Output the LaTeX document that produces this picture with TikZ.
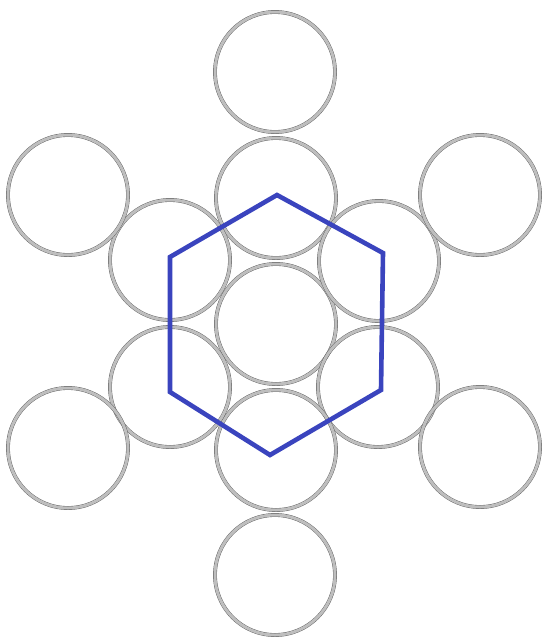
\documentclass[tikz,border=0pt]{standalone}
\usepackage{tikz}
\usetikzlibrary{positioning}
\definecolor{ringgray}{RGB}{190,190,190}
\definecolor{ringdark}{RGB}{95,95,95}
\definecolor{hexblue}{RGB}{58,68,190}
\tikzset{
  ring/.style={circle, draw=ringdark, double=ringgray, double distance=3pt,
    line width=0.4pt, minimum size=120pt, inner sep=0pt},
  hexline/.style={draw=hexblue, line width=4.6pt, line join=miter},
}

\begin{document}
\begin{tikzpicture}[x=1pt, y=-1pt]
  \useasboundingbox (0,0) rectangle (544,641);

  % Centre circle
  \node[ring] (c0) at (276,324) {};

  % Inner ring
  \foreach \name/\x/\y in {t1/276/198, ur1/379/261, lr1/378/387,
                          b1/276/450, ll1/170/387, ul1/170/260} {
    \node[ring] (\name) at (\x,\y) {};
  }

  % Outer ring
  \foreach \name/\x/\y in {t2/275/72, ur2/480/195, lr2/480/447,
                          b2/275/575, ll2/68/448, ul2/68/195} {
    \node[ring] (\name) at (\x,\y) {};
  }

  % Hexagon corners
  \foreach \name/\x/\y in {h1/277/195, h2/383/253, h3/381/390,
                          h4/270/455, h5/170/392, h6/170/257} {
    \coordinate (\name) at (\x,\y);
  }
  \draw[hexline] (h1) -- (h2) -- (h3) -- (h4) -- (h5) -- (h6) -- cycle;
\end{tikzpicture}
\end{document}
